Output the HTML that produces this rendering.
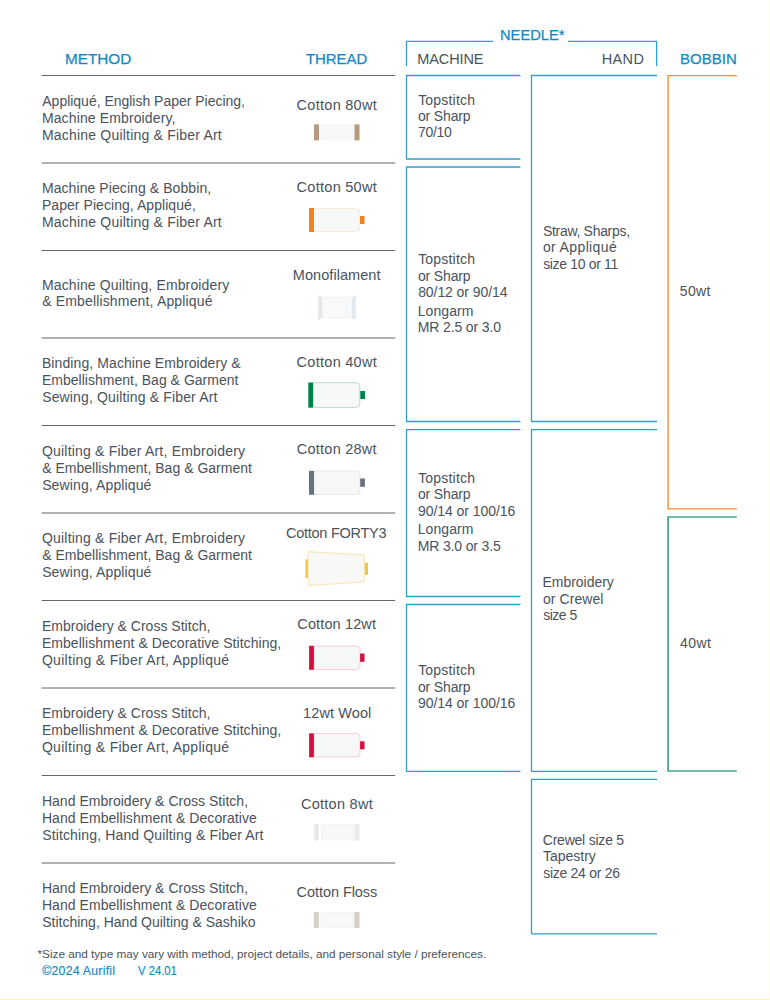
<!DOCTYPE html>
<html><head><meta charset="utf-8"><title>Thread Guide</title>
<style>
html,body{margin:0;padding:0;}
body{width:770px;height:1000px;position:relative;overflow:hidden;background:#fff;font-family:"Liberation Sans",sans-serif;color:#4a525b;}
.t{position:absolute;white-space:nowrap;font-size:14px;line-height:20px;}
svg{position:absolute;left:0;top:0;}
.edgeR{position:absolute;left:769px;top:0;width:1px;height:1000px;background:#fdfae4;}
.edgeB{position:absolute;left:0;top:999px;width:770px;height:1px;background:#faf2b0;}
</style></head><body>

<svg width="770" height="1000" viewBox="0 0 770 1000" fill="none">
<g stroke="#61676c" stroke-width="1">
<line x1="41.6" y1="75.5" x2="395.2" y2="75.5"/>
<line x1="41.6" y1="163.0" x2="395.2" y2="163.0"/>
<line x1="41.6" y1="250.5" x2="395.2" y2="250.5"/>
<line x1="41.6" y1="338.0" x2="395.2" y2="338.0"/>
<line x1="41.6" y1="425.5" x2="395.2" y2="425.5"/>
<line x1="41.6" y1="513.0" x2="395.2" y2="513.0"/>
<line x1="41.6" y1="600.5" x2="395.2" y2="600.5"/>
<line x1="41.6" y1="688.0" x2="395.2" y2="688.0"/>
<line x1="41.6" y1="775.5" x2="395.2" y2="775.5"/>
<line x1="41.6" y1="863.0" x2="395.2" y2="863.0"/>
</g>
<g stroke="#2f9fce" stroke-width="1.3" stroke-linejoin="round">
<path d="M406.5 66V41.4H493"/>
<path d="M568 41.4H656.6V66.1"/>
<path d="M520.4 75.5H406.5V159H520.4"/>
<path d="M520.4 167H406.5V421.5H520.4"/>
<path d="M520.4 429.6H406.5V596.5H520.4"/>
<path d="M520.4 604.5H406.5V771.3H520.4"/>
<path d="M657 75.5H531.5V421.5H657"/>
<path d="M657 429.6H531.5V771.3H657"/>
<path d="M657 779.4H531.5V933.9H657"/>
</g>
<path d="M736.8 75.6H668.1V508.9H736.8" stroke="#f58f36" stroke-width="1.4"/>
<path d="M736.8 517H668.1V771H736.8" stroke="#47a588" stroke-width="1.7"/>
<!-- spool icons -->
<g stroke-linejoin="round">
<!-- 1: Cotton 80wt -->
<rect x="320.8" y="125" width="32.8" height="15" fill="#f6f7f7" stroke="#eceeee" stroke-width="0.5"/>
<rect x="314" y="124.4" width="5" height="16" fill="#b79a7b"/>
<rect x="354.5" y="124.4" width="5" height="16" fill="#b79a7b"/>
<!-- 2: Cotton 50wt -->
<path d="M314 208.5H356.5Q359.8 208.5 359.8 212V228Q359.8 231.5 356.5 231.5H314Z" fill="#f6f7f7" stroke="#f9d3b3" stroke-width="0.5"/>
<rect x="314" y="208.2" width="1" height="23.6" fill="#fdfdfd"/>
<rect x="309" y="208" width="5" height="24" fill="#f08221"/>
<rect x="360" y="216" width="4.5" height="8" fill="#f08221"/>
<!-- 3: Monofilament -->
<rect x="322" y="297.3" width="30" height="20.7" fill="#f8f9fa" stroke="#e9edef" stroke-width="0.6"/>
<path d="M318.2 295.3L322 297.3V318L318.2 319.8Z" fill="#e2e8ec"/>
<path d="M355.8 295.3L352 297.3V318L355.8 319.8Z" fill="#e2e8ec"/>
<!-- 4: Cotton 40wt -->
<path d="M313.6 382.7H356.3Q359.8 382.7 359.8 386.2V403.9Q359.8 407.4 356.3 407.4H313.6Z" fill="#f7f8f8" stroke="#93c7b0" stroke-width="0.6"/>
<rect x="308.3" y="382.5" width="4.7" height="25.2" fill="#00804b"/>
<rect x="360.3" y="391" width="4.8" height="8" fill="#00804b"/>
<!-- 5: Cotton 28wt -->
<path d="M314 471H356.5Q360 471 360 474.5V491Q360 494.5 356.5 494.5H314Z" fill="#f6f7f7" stroke="#d3d7da" stroke-width="0.5"/>
<rect x="309" y="470.8" width="5" height="24" fill="#69727a"/>
<rect x="360.2" y="478.5" width="4.7" height="8.3" fill="#69727a"/>
<!-- 6: Cotton FORTY3 -->
<path d="M308.1 551.6L364.3 555V581.8L308.1 585.6Z" fill="#f8f8f6" stroke="#f6d27f" stroke-width="0.6"/>
<rect x="305.5" y="559.3" width="2.3" height="18.7" fill="#f5c242"/>
<rect x="364.9" y="562.8" width="3.1" height="12" fill="#f5c242"/>
<!-- 7: Cotton 12wt -->
<path d="M314 646H356.5Q360 646 360 649.5V666Q360 669.5 356.5 669.5H314Z" fill="#f6f7f7" stroke="#efb1c0" stroke-width="0.6"/>
<rect x="309.1" y="645.8" width="4.8" height="24" fill="#d40f3e"/>
<rect x="360.1" y="653.5" width="4.4" height="8.3" fill="#d40f3e"/>
<!-- 8: 12wt Wool -->
<path d="M314 733.5H356.5Q360 733.5 360 737V753.5Q360 757 356.5 757H314Z" fill="#f6f7f7" stroke="#efb1c0" stroke-width="0.6"/>
<rect x="309.1" y="733.3" width="4.8" height="24" fill="#d40f3e"/>
<rect x="360.1" y="741.3" width="4.4" height="8" fill="#d40f3e"/>
<!-- 9: Cotton 8wt -->
<rect x="321.2" y="824.5" width="31.6" height="15.5" fill="#f6f7f7" stroke="#eceeee" stroke-width="0.5"/>
<rect x="313.9" y="824" width="5" height="16.5" fill="#e9eaea"/>
<rect x="354.2" y="824" width="5.3" height="16.5" fill="#e9eaea"/>
<!-- 10: Cotton Floss -->
<rect x="320.8" y="912.5" width="32.5" height="15" fill="#f6f7f7" stroke="#eceeee" stroke-width="0.5"/>
<rect x="313.9" y="912" width="5" height="16" fill="#d6d0c5"/>
<rect x="354.3" y="912" width="5.2" height="16" fill="#d6d0c5"/>
</g>

</svg>
<div class="t" style="left:64.53px;top:48.50px;font-size:15.5px;letter-spacing:0.000px;color:#0f8ac4;transform:scaleX(0.9853);transform-origin:0 0;-webkit-text-stroke:0.25px currentColor;">METHOD</div>
<div class="t" style="left:305.69px;top:48.50px;font-size:15.5px;letter-spacing:0.000px;color:#0f8ac4;transform:scaleX(0.9603);transform-origin:0 0;-webkit-text-stroke:0.25px currentColor;">THREAD</div>
<div class="t" style="left:499.58px;top:25.20px;font-size:15.5px;letter-spacing:0.000px;color:#0f8ac4;transform:scaleX(0.9479);transform-origin:0 0;-webkit-text-stroke:0.25px currentColor;">NEEDLE*</div>
<div class="t" style="left:679.55px;top:48.50px;font-size:15.5px;letter-spacing:0.000px;color:#0f8ac4;transform:scaleX(0.9689);transform-origin:0 0;-webkit-text-stroke:0.25px currentColor;">BOBBIN</div>
<div class="t" style="left:417.37px;top:48.60px;font-size:14.5px;letter-spacing:-0.137px;">MACHINE</div>
<div class="t" style="left:601.67px;top:48.60px;font-size:14.5px;letter-spacing:0.383px;">HAND</div>
<div class="t" style="left:42.30px;top:90.90px;font-size:14px;letter-spacing:-0.016px;">Appliqué, English Paper Piecing,</div>
<div class="t" style="left:41.91px;top:107.80px;font-size:14px;letter-spacing:0.128px;">Machine Embroidery,</div>
<div class="t" style="left:41.91px;top:124.70px;font-size:14px;letter-spacing:0.203px;">Machine Quilting &amp; Fiber Art</div>
<div class="t" style="left:41.91px;top:178.40px;font-size:14px;letter-spacing:0.080px;">Machine Piecing &amp; Bobbin,</div>
<div class="t" style="left:41.91px;top:195.30px;font-size:14px;letter-spacing:0.057px;">Paper Piecing, Appliqué,</div>
<div class="t" style="left:41.91px;top:212.20px;font-size:14px;letter-spacing:0.203px;">Machine Quilting &amp; Fiber Art</div>
<div class="t" style="left:41.91px;top:274.90px;font-size:14px;letter-spacing:0.136px;">Machine Quilting, Embroidery</div>
<div class="t" style="left:42.16px;top:291.30px;font-size:14px;letter-spacing:0.158px;">&amp; Embellishment, Appliqué</div>
<div class="t" style="left:41.91px;top:353.40px;font-size:14px;letter-spacing:0.095px;">Binding, Machine Embroidery &amp;</div>
<div class="t" style="left:41.91px;top:370.30px;font-size:14px;letter-spacing:0.017px;">Embellishment, Bag &amp; Garment</div>
<div class="t" style="left:42.16px;top:387.20px;font-size:14px;letter-spacing:0.149px;">Sewing, Quilting &amp; Fiber Art</div>
<div class="t" style="left:41.94px;top:440.90px;font-size:14px;letter-spacing:0.201px;">Quilting &amp; Fiber Art, Embroidery</div>
<div class="t" style="left:42.16px;top:457.80px;font-size:14px;letter-spacing:0.017px;">&amp; Embellishment, Bag &amp; Garment</div>
<div class="t" style="left:42.16px;top:474.70px;font-size:14px;letter-spacing:0.121px;">Sewing, Appliqué</div>
<div class="t" style="left:41.94px;top:528.40px;font-size:14px;letter-spacing:0.201px;">Quilting &amp; Fiber Art, Embroidery</div>
<div class="t" style="left:42.16px;top:545.30px;font-size:14px;letter-spacing:0.017px;">&amp; Embellishment, Bag &amp; Garment</div>
<div class="t" style="left:42.16px;top:562.20px;font-size:14px;letter-spacing:0.121px;">Sewing, Appliqué</div>
<div class="t" style="left:41.91px;top:615.90px;font-size:14px;letter-spacing:0.016px;">Embroidery &amp; Cross Stitch,</div>
<div class="t" style="left:41.91px;top:632.80px;font-size:14px;letter-spacing:0.056px;">Embellishment &amp; Decorative Stitching,</div>
<div class="t" style="left:41.94px;top:649.70px;font-size:14px;letter-spacing:0.283px;">Quilting &amp; Fiber Art, Appliqué</div>
<div class="t" style="left:41.91px;top:703.40px;font-size:14px;letter-spacing:0.016px;">Embroidery &amp; Cross Stitch,</div>
<div class="t" style="left:41.91px;top:720.30px;font-size:14px;letter-spacing:0.056px;">Embellishment &amp; Decorative Stitching,</div>
<div class="t" style="left:41.94px;top:737.20px;font-size:14px;letter-spacing:0.283px;">Quilting &amp; Fiber Art, Appliqué</div>
<div class="t" style="left:41.91px;top:790.90px;font-size:14px;letter-spacing:0.024px;">Hand Embroidery &amp; Cross Stitch,</div>
<div class="t" style="left:41.91px;top:807.80px;font-size:14px;letter-spacing:0.055px;">Hand Embellishment &amp; Decorative</div>
<div class="t" style="left:42.16px;top:824.70px;font-size:14px;letter-spacing:0.143px;">Stitching, Hand Quilting &amp; Fiber Art</div>
<div class="t" style="left:41.91px;top:878.40px;font-size:14px;letter-spacing:0.024px;">Hand Embroidery &amp; Cross Stitch,</div>
<div class="t" style="left:41.91px;top:895.30px;font-size:14px;letter-spacing:0.055px;">Hand Embellishment &amp; Decorative</div>
<div class="t" style="left:42.16px;top:912.20px;font-size:14px;letter-spacing:0.005px;">Stitching, Hand Quilting &amp; Sashiko</div>
<div class="t" style="left:296.62px;top:94.50px;font-size:14.5px;letter-spacing:0.275px;">Cotton 80wt</div>
<div class="t" style="left:296.62px;top:177.00px;font-size:14.5px;letter-spacing:0.275px;">Cotton 50wt</div>
<div class="t" style="left:292.87px;top:264.80px;font-size:14.5px;letter-spacing:0.049px;">Monofilament</div>
<div class="t" style="left:296.62px;top:352.00px;font-size:14.5px;letter-spacing:0.275px;">Cotton 40wt</div>
<div class="t" style="left:296.82px;top:439.30px;font-size:14.5px;letter-spacing:0.235px;">Cotton 28wt</div>
<div class="t" style="left:286.02px;top:523.00px;font-size:14.5px;letter-spacing:-0.260px;">Cotton FORTY3</div>
<div class="t" style="left:297.32px;top:614.30px;font-size:14.5px;letter-spacing:0.125px;">Cotton 12wt</div>
<div class="t" style="left:303.09px;top:702.50px;font-size:14.5px;letter-spacing:0.104px;">12wt Wool</div>
<div class="t" style="left:300.92px;top:793.80px;font-size:14.5px;letter-spacing:0.280px;">Cotton 8wt</div>
<div class="t" style="left:296.62px;top:881.80px;font-size:14.5px;letter-spacing:-0.069px;">Cotton Floss</div>
<div class="t" style="left:418.18px;top:89.55px;font-size:14px;letter-spacing:0.195px;">Topstitch</div>
<div class="t" style="left:417.96px;top:105.85px;font-size:14px;letter-spacing:-0.156px;">or Sharp</div>
<div class="t" style="left:417.94px;top:121.75px;font-size:14px;letter-spacing:-0.307px;">70/10</div>
<div class="t" style="left:418.18px;top:248.65px;font-size:14px;letter-spacing:0.195px;">Topstitch</div>
<div class="t" style="left:417.96px;top:265.60px;font-size:14px;letter-spacing:-0.156px;">or Sharp</div>
<div class="t" style="left:418.16px;top:281.65px;font-size:14px;letter-spacing:-0.078px;">80/12 or 90/14</div>
<div class="t" style="left:417.71px;top:301.05px;font-size:14px;letter-spacing:0.094px;">Longarm</div>
<div class="t" style="left:417.71px;top:317.05px;font-size:14px;letter-spacing:-0.123px;">MR 2.5 or 3.0</div>
<div class="t" style="left:418.18px;top:467.75px;font-size:14px;letter-spacing:0.195px;">Topstitch</div>
<div class="t" style="left:417.96px;top:484.25px;font-size:14px;letter-spacing:-0.156px;">or Sharp</div>
<div class="t" style="left:417.94px;top:500.85px;font-size:14px;letter-spacing:-0.054px;">90/14 or 100/16</div>
<div class="t" style="left:417.71px;top:519.25px;font-size:14px;letter-spacing:0.094px;">Longarm</div>
<div class="t" style="left:417.71px;top:535.55px;font-size:14px;letter-spacing:-0.146px;">MR 3.0 or 3.5</div>
<div class="t" style="left:418.18px;top:660.45px;font-size:14px;letter-spacing:0.195px;">Topstitch</div>
<div class="t" style="left:417.96px;top:676.85px;font-size:14px;letter-spacing:-0.156px;">or Sharp</div>
<div class="t" style="left:417.94px;top:693.35px;font-size:14px;letter-spacing:-0.054px;">90/14 or 100/16</div>
<div class="t" style="left:542.96px;top:220.75px;font-size:14px;letter-spacing:-0.304px;">Straw, Sharps,</div>
<div class="t" style="left:542.96px;top:237.25px;font-size:14px;letter-spacing:0.368px;">or Appliqué</div>
<div class="t" style="left:543.18px;top:253.65px;font-size:14px;letter-spacing:-0.336px;">size 10 or 11</div>
<div class="t" style="left:542.51px;top:572.45px;font-size:14px;letter-spacing:-0.032px;">Embroidery</div>
<div class="t" style="left:542.96px;top:588.95px;font-size:14px;letter-spacing:0.070px;">or Crewel</div>
<div class="t" style="left:543.18px;top:605.35px;font-size:14px;letter-spacing:-0.497px;">size 5</div>
<div class="t" style="left:542.74px;top:829.95px;font-size:14px;letter-spacing:-0.217px;">Crewel size 5</div>
<div class="t" style="left:542.98px;top:846.05px;font-size:14px;letter-spacing:-0.013px;">Tapestry</div>
<div class="t" style="left:543.18px;top:862.65px;font-size:14px;letter-spacing:-0.281px;">size 24 or 26</div>
<div class="t" style="left:679.76px;top:281.15px;font-size:14px;letter-spacing:0.372px;">50wt</div>
<div class="t" style="left:679.98px;top:632.75px;font-size:14px;letter-spacing:0.466px;">40wt</div>
<div class="t" style="left:37.52px;top:943.50px;font-size:11.8px;letter-spacing:-0.029px;">*Size and type may vary with method, project details, and personal style / preferences.</div>
<div class="t" style="left:42.18px;top:960.50px;font-size:12.3px;letter-spacing:0.247px;color:#0f8ac4;-webkit-text-stroke:0.15px currentColor;">©2024 Aurifil</div>
<div class="t" style="left:138.27px;top:960.50px;font-size:12.3px;letter-spacing:0.000px;color:#0f8ac4;transform:scaleX(0.9176);transform-origin:0 0;-webkit-text-stroke:0.15px currentColor;">V 24.01</div>
<div class="edgeR"></div><div class="edgeB"></div>
</body></html>
